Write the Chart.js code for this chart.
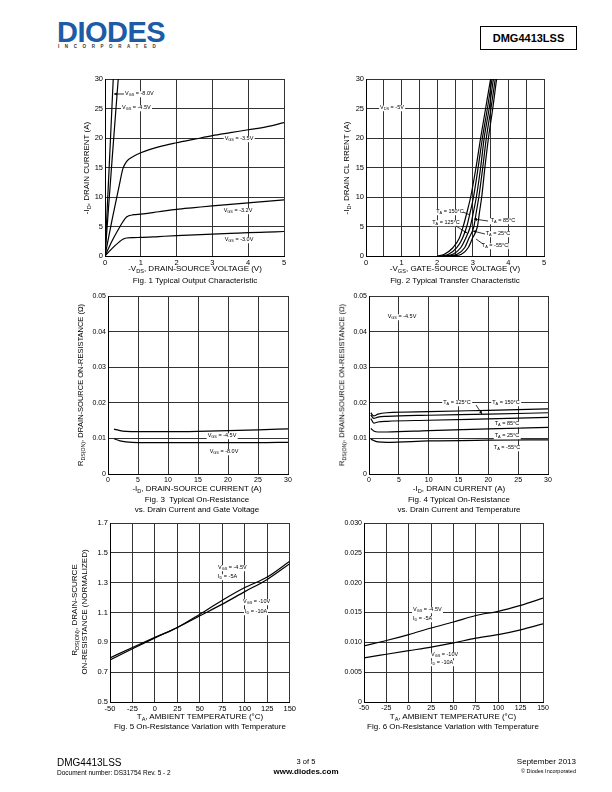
<!DOCTYPE html>
<html><head><meta charset="utf-8">
<script src="https://cdn.jsdelivr.net/npm/chart.js@4"></script>
<style>
body{margin:0;background:#fff;}
#page{position:relative;width:612px;height:792px;overflow:hidden;font-family:"Liberation Sans",Arial,sans-serif;color:#000;background:#fff;}
.t{position:absolute;white-space:nowrap;line-height:1;}
.c{transform:translate(-50%,-50%);}
.l{transform:translate(0,-50%);}
.r{transform:translate(-100%,-50%);}
.rot{transform:translate(-50%,-50%) rotate(-90deg);}
.ax{font-size:8px;}
.cap{font-size:8px;}
.an{font-size:5.5px;background:#fff;padding:0 1px;}
sub{font-size:70%;vertical-align:-0.3em;line-height:0;}
canvas{position:absolute;}
svg{position:absolute;left:0;top:0;}
</style>
</head><body>
<div id="page">
  <!-- header -->
  <div class="t" style="left:57px;top:18px;font-size:29px;font-weight:bold;color:#1d5ba6;letter-spacing:-0.5px;">DIODES</div>
  <div class="t" style="left:58px;top:45px;font-size:4.5px;font-weight:bold;color:#333;letter-spacing:5.6px;">INCORPORATED</div>
  <div class="t" style="left:480px;top:26px;width:95px;height:22px;border:1px solid #000;font-size:11px;font-weight:bold;display:flex;align-items:center;justify-content:center;">DMG4413LSS</div>

  <canvas id="f1"></canvas><canvas id="f2"></canvas>
  <canvas id="f3"></canvas><canvas id="f4"></canvas>
  <canvas id="f5"></canvas><canvas id="f6"></canvas>

  <!-- Fig 1 texts -->
  <div class="t ax rot" style="left:87px;top:168px;">-I<sub>D</sub>, DRAIN CURRENT (A)</div>
  <div class="t ax c" style="left:195px;top:269px;">-V<sub>DS</sub>, DRAIN-SOURCE VOLTAGE (V)</div>
  <div class="t cap c" style="left:195px;top:281px;">Fig. 1 Typical Output Characteristic</div>
  <div class="t an l" style="left:124px;top:94px;">V<sub>GS</sub> = -8.0V</div>
  <div class="t an l" style="left:121px;top:108px;">V<sub>GS</sub> = -4.5V</div>
  <div class="t an c" style="left:239px;top:139px;">V<sub>GS</sub> = -3.5V</div>
  <div class="t an c" style="left:238px;top:211px;">V<sub>GS</sub> = -3.2V</div>
  <div class="t an c" style="left:239px;top:240px;">V<sub>GS</sub> = -3.0V</div>

  <!-- Fig 2 texts -->
  <div class="t ax rot" style="left:347px;top:168px;">-I<sub>D</sub>, DRAIN CL RRENT (A)</div>
  <div class="t ax c" style="left:455px;top:269px;">-V<sub>GS</sub>, GATE-SOURCE VOLTAGE (V)</div>
  <div class="t cap c" style="left:455px;top:281px;">Fig. 2 Typical Transfer Characteristic</div>
  <div class="t an c" style="left:392px;top:108px;">V<sub>DS</sub> = -5V</div>
  <div class="t an c" style="left:450px;top:212px;">T<sub>A</sub> = 150°C</div>
  <div class="t an c" style="left:446px;top:223px;">T<sub>A</sub> = 125°C</div>
  <div class="t an c" style="left:503px;top:221px;">T<sub>A</sub> = 85°C</div>
  <div class="t an c" style="left:498px;top:234px;">T<sub>A</sub> = 25°C</div>
  <div class="t an c" style="left:495px;top:246px;">T<sub>A</sub> = -55°C</div>

  <!-- Fig 3 texts -->
  <div class="t ax rot" style="left:81px;top:385px;font-size:7.5px;">R<sub>DS(ON)</sub>, DRAIN-SOURCE ON-RESISTANCE (Ω)</div>
  <div class="t ax c" style="left:197px;top:489px;">-I<sub>D</sub>, DRAIN-SOURCE CURRENT (A)</div>
  <div class="t cap c" style="left:197px;top:500px;">Fig. 3&nbsp; Typical On-Resistance</div>
  <div class="t cap c" style="left:197px;top:510px;">vs. Drain Current and Gate Voltage</div>
  <div class="t an c" style="left:222px;top:436px;">V<sub>GS</sub> = -4.5V</div>
  <div class="t an c" style="left:224px;top:452px;">V<sub>GS</sub> = -8.0V</div>

  <!-- Fig 4 texts -->
  <div class="t ax rot" style="left:342px;top:385px;font-size:7.5px;">R<sub>DS(ON)</sub>, DRAIN-SOURCE ON-RESISTANCE (Ω)</div>
  <div class="t ax c" style="left:459px;top:489px;">-I<sub>D</sub>, DRAIN CURRENT (A)</div>
  <div class="t cap c" style="left:459px;top:500px;">Fig. 4 Typical On-Resistance</div>
  <div class="t cap c" style="left:459px;top:510px;">vs. Drain Current and Temperature</div>
  <div class="t an c" style="left:402px;top:317px;">V<sub>GS</sub> = -4.5V</div>
  <div class="t an c" style="left:457px;top:403px;">T<sub>A</sub> = 125°C</div>
  <div class="t an c" style="left:506px;top:403px;">T<sub>A</sub> = 150°C</div>
  <div class="t an c" style="left:507px;top:424px;">T<sub>A</sub> = 85°C</div>
  <div class="t an c" style="left:507px;top:436px;">T<sub>A</sub> = 25°C</div>
  <div class="t an c" style="left:507px;top:448px;">T<sub>A</sub> = -55°C</div>

  <!-- Fig 5 texts -->
  <div class="t ax rot" style="left:75px;top:610px;">R<sub>DS(ON)</sub>, DRAIN-SCURCE</div>
  <div class="t ax rot" style="left:85px;top:612px;">ON-RESISTANCE (NORMALIZED)</div>
  <div class="t ax c" style="left:200px;top:717px;">T<sub>A</sub>, AMBIENT TEMPERATURE (°C)</div>
  <div class="t cap c" style="left:200px;top:727px;">Fig. 5 On-Resistance Variation with Temperature</div>
  <div class="t an l" style="left:217px;top:568px;">V<sub>GS</sub> = -4.5V</div>
  <div class="t an l" style="left:217px;top:577px;">I<sub>D</sub> = -5A</div>
  <div class="t an l" style="left:242px;top:602px;">V<sub>GS</sub> = -10V</div>
  <div class="t an l" style="left:244px;top:612px;">I<sub>D</sub> = -10A</div>

  <!-- Fig 6 texts -->
  <div class="t ax c" style="left:453px;top:717px;">T<sub>A</sub>, AMBIENT TEMPERATURE (°C)</div>
  <div class="t cap c" style="left:453px;top:727px;">Fig. 6 On-Resistance Variation with Temperature</div>
  <div class="t an l" style="left:412px;top:610px;">V<sub>GS</sub> = -4.5V</div>
  <div class="t an l" style="left:412px;top:619px;">I<sub>D</sub> = -5A</div>
  <div class="t an l" style="left:430px;top:655px;">V<sub>GS</sub> = -10V</div>
  <div class="t an l" style="left:430px;top:663px;">I<sub>D</sub> = -10A</div>

  <svg width="612" height="792">
    <defs><marker id="ah" viewBox="0 0 6 6" refX="6" refY="3" markerWidth="4" markerHeight="4" orient="auto"><path d="M0,0 L6,3 L0,6 z" fill="#000"/></marker></defs>
    <g stroke="#000" stroke-width="0.8" fill="none">
      <line x1="124" y1="94" x2="114" y2="94" marker-end="url(#ah)"/>
      <line x1="463" y1="212" x2="470" y2="215"/>
      <line x1="456" y1="226" x2="467" y2="233" marker-end="url(#ah)"/>
      <line x1="488" y1="221" x2="474" y2="219" marker-end="url(#ah)"/>
      <line x1="485" y1="234" x2="473" y2="231" marker-end="url(#ah)"/>
      <line x1="483" y1="244" x2="476" y2="239"/>
      <line x1="476" y1="405" x2="482" y2="414" marker-end="url(#ah)"/>
    </g>
  </svg>

  <!-- footer -->
  <div class="t l" style="left:57px;top:763px;font-size:10px;">DMG4413LSS</div>
  <div class="t l" style="left:57px;top:773px;font-size:6.5px;">Document number: DS31754 Rev. 5 - 2</div>
  <div class="t c" style="left:306px;top:762px;font-size:7.5px;">3 of 5</div>
  <div class="t c" style="left:306px;top:772px;font-size:8px;font-weight:bold;">www.diodes.com</div>
  <div class="t r" style="left:576px;top:762px;font-size:8px;">September 2013</div>
  <div class="t r" style="left:576px;top:772px;font-size:5.5px;">© Diodes Incorporated</div>
</div>

<script>
// ---------- Fig 1: Typical Output Characteristic ----------
const fig1XTicks = [0,1,2,3,4,5];
const fig1XLabels = ['0','1','2','3','4','5'];
const fig1YTicks = [0,5,10,15,20,25,30];
const fig1YLabels = ['0','5','10','15','20','25','30'];
const fig1VdsM80 = [0, 0.12, 0.23, 0.27];
const fig1IdM80  = [0, 15.5, 30, 35];
const fig1VdsM45 = [0, 0.1, 0.2, 0.3, 0.37, 0.42];
const fig1IdM45  = [0, 8.3, 16.5, 24.5, 30, 34];
const fig1Vds    = [0, 0.2, 0.4, 0.5, 0.6, 0.8, 1.0, 1.5, 2, 2.5, 3, 3.5, 4, 4.5, 5];
const fig1IdM35  = [0, 6.2, 12.0, 14.8, 16.0, 16.9, 17.5, 18.5, 19.2, 19.8, 20.4, 20.9, 21.4, 21.9, 22.6];
const fig1IdM32  = [0, 2.6, 4.8, 5.8, 6.6, 7.0, 7.1, 7.5, 7.9, 8.2, 8.5, 8.75, 9.0, 9.25, 9.5];
const fig1IdM30  = [0, 1.3, 2.4, 2.85, 3.05, 3.12, 3.15, 3.3, 3.45, 3.58, 3.7, 3.82, 3.95, 4.05, 4.15];

// ---------- Fig 2: Typical Transfer Characteristic ----------
const fig2XTicks = [0,0.5,1,1.5,2,2.5,3,3.5,4,4.5,5];
const fig2XLabels = ['0','','1','','2','','3','','4','','5'];
const fig2YTicks = [0,5,10,15,20,25,30];
const fig2YLabels = ['0','5','10','15','20','25','30'];
const fig2Id    = [0, 0.3, 1.4, 3, 5, 7.5, 10, 15, 20, 25, 30, 33];
const fig2V150  = [2.00, 2.20, 2.44, 2.62, 2.73, 2.84, 2.94, 3.09, 3.22, 3.36, 3.50, 3.58];
const fig2V125  = [2.10, 2.32, 2.55, 2.71, 2.83, 2.93, 3.02, 3.15, 3.27, 3.41, 3.54, 3.62];
const fig2V85   = [2.20, 2.44, 2.66, 2.80, 2.93, 3.02, 3.10, 3.22, 3.32, 3.46, 3.58, 3.66];
const fig2V25   = [2.30, 2.56, 2.77, 2.89, 3.03, 3.10, 3.17, 3.28, 3.38, 3.51, 3.63, 3.71];
const fig2VM55  = [2.40, 2.68, 2.87, 2.99, 3.13, 3.19, 3.25, 3.34, 3.44, 3.56, 3.67, 3.75];

// ---------- Fig 3: On-Resistance vs Drain Current and Gate Voltage ----------
const fig3XTicks = [0,5,10,15,20,25,30];
const fig3XLabels = ['0','5','10','15','20','25','30'];
const fig3YTicks = [0,0.01,0.02,0.03,0.04,0.05];
const fig3YLabels = ['0','0.01','0.02','0.03','0.04','0.05'];
const fig3Id   = [1, 2, 3, 5, 10, 15, 20, 25, 30];
const fig3R45  = [0.0126, 0.0122, 0.0120, 0.0119, 0.0119, 0.0120, 0.0122, 0.0124, 0.0127];
const fig3R80  = [0.0099, 0.0093, 0.0090, 0.0088, 0.0088, 0.0088, 0.0088, 0.0088, 0.0089];

// ---------- Fig 4: On-Resistance vs Drain Current and Temperature ----------
const fig4XTicks = [0,5,10,15,20,25,30];
const fig4XLabels = ['0','5','10','15','20','25','30'];
const fig4YTicks = [0,0.01,0.02,0.03,0.04,0.05];
const fig4YLabels = ['0','0.01','0.02','0.03','0.04','0.05'];
const fig4Id    = [0.3, 0.8, 1.5, 3, 10, 20, 30];
const fig4R150  = [0.0172, 0.0163, 0.0168, 0.0172, 0.0175, 0.0179, 0.0183];
const fig4R125  = [0.0166, 0.0156, 0.0160, 0.0162, 0.0165, 0.0168, 0.0172];
const fig4R85   = [0.0156, 0.0143, 0.0146, 0.0148, 0.0151, 0.0155, 0.0159];
const fig4R25   = [0.0128, 0.0121, 0.0118, 0.0118, 0.0122, 0.0127, 0.0131];
const fig4RM55  = [0.0098, 0.0094, 0.0090, 0.0089, 0.0093, 0.0095, 0.0096];

// ---------- Fig 5: Normalized On-Resistance vs Temperature ----------
const fig5XTicks = [-50,-25,0,25,50,75,100,125,150];
const fig5XLabels = ['-50','-25','0','25','50','75','100','125','150'];
const fig5YTicks = [0.5,0.7,0.9,1.1,1.3,1.5,1.7];
const fig5YLabels = ['0.5','0.7','0.9','1.1','1.3','1.5','1.7'];
const fig5T    = [-50, -25, 0, 25, 50, 75, 100, 125, 150];
const fig5R45  = [0.782, 0.857, 0.930, 1.0, 1.089, 1.182, 1.267, 1.338, 1.444];
const fig5R10  = [0.796, 0.865, 0.933, 1.0, 1.078, 1.156, 1.240, 1.322, 1.427];

// ---------- Fig 6: On-Resistance vs Temperature ----------
const fig6XTicks = [-50,-25,0,25,50,75,100,125,150];
const fig6XLabels = ['-50','-25','0','25','50','75','100','125','150'];
const fig6YTicks = [0,0.005,0.01,0.015,0.02,0.025,0.03];
const fig6YLabels = ['0','0.005','0.010','0.015','0.020','0.025','0.030'];
const fig6T    = [-50, -25, 0, 25, 50, 75, 100, 125, 150];
const fig6R45  = [0.0094, 0.0103, 0.0113, 0.0124, 0.0134, 0.0145, 0.0152, 0.0162, 0.0174];
const fig6R10  = [0.0074, 0.0080, 0.0086, 0.0092, 0.0099, 0.0107, 0.0113, 0.0121, 0.0131];

Chart.defaults.font.family = '"Liberation Sans", Arial, sans-serif';
Chart.defaults.font.size = 8;
Chart.defaults.color = '#000';

function pts(xs, ys){ return xs.map((x,i)=>({x:x, y:ys[i]})); }
function ds(xs, ys){
  return {data: pts(xs, ys), borderColor:'#000', borderWidth:1.2, pointRadius:0,
          showLine:true, fill:false, cubicInterpolationMode:'monotone'};
}
function axis(ticks, labels, min, max, fit, isY, fs){
  return {
    type:'linear', min:min, max:max,
    afterBuildTicks: s => { s.ticks = ticks.map(v => ({value:v})); },
    afterFit: s => { if (isY) s.width = fit; else s.height = fit; },
    ticks:{autoSkip:false, maxRotation:0, minRotation:0, padding: isY ? 2 : 2,
           color:'#000', font:{size:fs}, callback:(v,i) => labels[i]},
    grid:{color:'#333', lineWidth:1, drawTicks:false},
    border:{color:'#000', width:1}
  };
}
function make(id, box, datasets, xs, ys, fs){
  const YW = 30, XH = 12, P = 8;
  const cv = document.getElementById(id);
  cv.width = YW + box[2] + P; cv.height = P + box[3] + XH;
  cv.style.left = (box[0] - YW) + 'px'; cv.style.top = (box[1] - P) + 'px';
  cv.style.width = cv.width + 'px'; cv.style.height = cv.height + 'px';
  new Chart(cv, {
    type:'scatter',
    data:{datasets: datasets},
    options:{
      responsive:false, animation:false, devicePixelRatio:1,
      layout:{padding:{top:P, right:P, left:0, bottom:0}},
      plugins:{legend:{display:false}, tooltip:{enabled:false}},
      scales:{x: axis(xs[0], xs[1], xs[2], xs[3], XH, false, fs),
              y: axis(ys[0], ys[1], ys[2], ys[3], YW, true, fs)}
    }
  });
}

make('f1', [105,79,179,177],
  [ds(fig1VdsM80, fig1IdM80), ds(fig1VdsM45, fig1IdM45), ds(fig1Vds, fig1IdM35),
   ds(fig1Vds, fig1IdM32), ds(fig1Vds, fig1IdM30)],
  [fig1XTicks, fig1XLabels, 0, 5], [fig1YTicks, fig1YLabels, 0, 30], 7.5);

make('f2', [366,79,178,177],
  [ds(fig2V150, fig2Id), ds(fig2V125, fig2Id), ds(fig2V85, fig2Id), ds(fig2V25, fig2Id), ds(fig2VM55, fig2Id)],
  [fig2XTicks, fig2XLabels, 0, 5], [fig2YTicks, fig2YLabels, 0, 30], 7.5);

make('f3', [108,296,180,178],
  [ds(fig3Id, fig3R45), ds(fig3Id, fig3R80)],
  [fig3XTicks, fig3XLabels, 0, 30], [fig3YTicks, fig3YLabels, 0, 0.05], 7);

make('f4', [369,296,179,178],
  [ds(fig4Id, fig4R150), ds(fig4Id, fig4R125), ds(fig4Id, fig4R85), ds(fig4Id, fig4R25), ds(fig4Id, fig4RM55)],
  [fig4XTicks, fig4XLabels, 0, 30], [fig4YTicks, fig4YLabels, 0, 0.05], 7);

make('f5', [110,523,180,179],
  [ds(fig5T, fig5R45), ds(fig5T, fig5R10)],
  [fig5XTicks, fig5XLabels, -50, 150], [fig5YTicks, fig5YLabels, 0.5, 1.7], 7.5);

make('f6', [364,523,179,179],
  [ds(fig6T, fig6R45), ds(fig6T, fig6R10)],
  [fig6XTicks, fig6XLabels, -50, 150], [fig6YTicks, fig6YLabels, 0, 0.03], 7);
</script>
</body></html>
